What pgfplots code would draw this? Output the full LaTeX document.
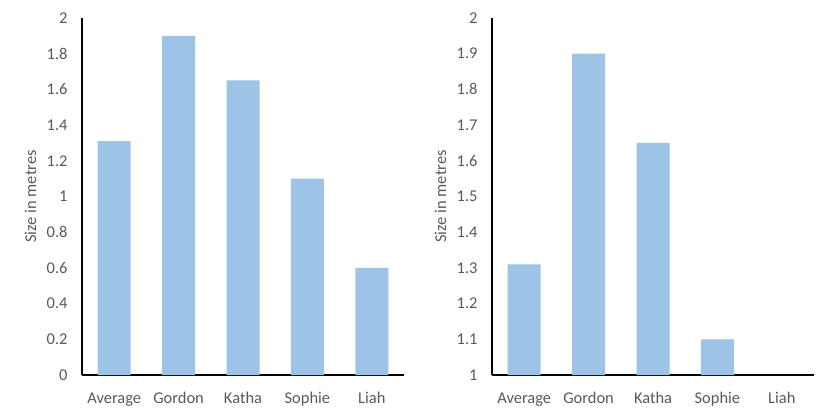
\documentclass[border=0pt]{standalone}
\usepackage{fontspec}
\setmainfont{Carlito}
\usepackage{pgfplots}
\pgfplotsset{compat=1.18}
\definecolor{barblue}{RGB}{157,195,230}
\definecolor{txtgray}{RGB}{89,89,89}

\pgfplotsset{sizechart/.style={
    scale only axis, width=322bp, height=357bp,
    ybar, bar width=33bp, bar shift=0pt,
    xmin=-0.5, xmax=4.5,
    xtick={0,...,4},
    xticklabels={Average,Gordon,Katha,Sophie,Liah},
    axis x line*=bottom, axis y line*=left,
    axis line style={line width=1.6bp,-,black},
    major tick length=0pt,
    tick label style={font=\fontsize{16.5}{19}\selectfont, text=txtgray},
    /pgf/number format/assume math mode=true,
    xticklabel style={yshift=-14bp},
    yticklabel style={xshift=-11bp},
    ylabel={Size in metres},
    ylabel style={at={(axis description cs:-0.16,0.5)}, anchor=center,
      font=\fontsize{16.5}{19}\selectfont, text=txtgray},
  }}

\begin{document}
\begin{tikzpicture}[x=1bp,y=1bp]
  \useasboundingbox (0,0) rectangle (830,418);
  \begin{axis}[sizechart, at={(82bp,43bp)}, anchor=south west,
      ymin=0, ymax=2, ytick={0,0.2,...,2}]
    \addplot[fill=barblue, draw=none]
      coordinates {(0,1.31) (1,1.90) (2,1.65) (3,1.10) (4,0.60)};
  \end{axis}
  \begin{axis}[sizechart, at={(492bp,43bp)}, anchor=south west,
      ymin=1, ymax=2, ytick={1,1.1,...,2}]
    \addplot[fill=barblue, draw=none, restrict y to domain=1:2]
      coordinates {(0,1.31) (1,1.90) (2,1.65) (3,1.10) (4,0.60)};
  \end{axis}
\end{tikzpicture}
\end{document}
